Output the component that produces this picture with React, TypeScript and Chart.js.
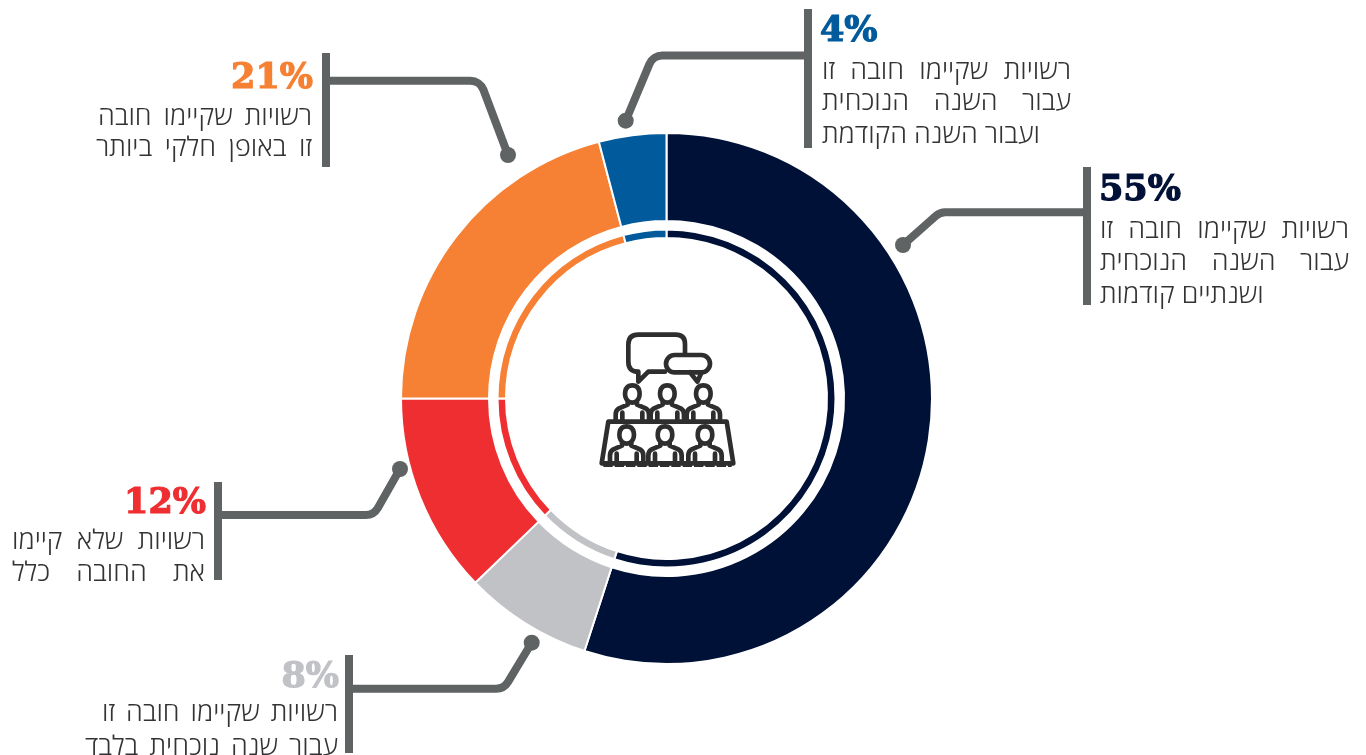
import React, { useEffect, useRef } from "react";
import { Chart, registerables } from "chart.js";

Chart.register(...registerables);

const categories = [
  "רשויות שקיימו חובה זו עבור השנה הנוכחית ושנתיים קודמות",
  "רשויות שקיימו חובה זו עבור שנה נוכחית בלבד",
  "רשויות שלא קיימו את החובה כלל",
  "רשויות שקיימו חובה זו באופן חלקי ביותר",
  "רשויות שקיימו חובה זו עבור השנה הנוכחית ועבור השנה הקודמת",
];
const percentLabels = ["55%", "8%", "12%", "21%", "4%"];
const values = [55, 7.8, 12.2, 20.9, 4.1];
const sliceColors = ["#001137", "#c1c2c6", "#ef2e31", "#f68033", "#005a9c"];
const BAR = "#5f6363";
const TEXT = "#333335";

type Line = { text: string; left: number; right: number; top: number; justify: boolean };
type Callout = {
  index: number;
  pctLeft?: number;
  pctRight?: number;
  pctTop: number;
  bar: [number, number, number, number];
  leader: [number, number][];
  lines: Line[];
};

const callouts: Callout[] = [
  {
    index: 0,
    pctLeft: 1099,
    pctTop: 166,
    bar: [1083, 167, 8, 138],
    leader: [[1084, 212.3], [940, 212.3], [903, 245]],
    lines: [
      { text: "רשויות שקיימו חובה זו", left: 1100, right: 1349, top: 211, justify: true },
      { text: "עבור השנה הנוכחית", left: 1100, right: 1349, top: 243, justify: true },
      { text: "ושנתיים קודמות", left: 1100, right: 1267, top: 276, justify: false },
    ],
  },
  {
    index: 4,
    pctLeft: 820,
    pctTop: 7,
    bar: [804, 9, 8, 139],
    leader: [[805, 55.5], [653, 55.5], [625.7, 120.7]],
    lines: [
      { text: "רשויות שקיימו חובה זו", left: 822, right: 1071, top: 52, justify: true },
      { text: "עבור השנה הנוכחית", left: 822, right: 1071, top: 83, justify: true },
      { text: "ועבור השנה הקודמת", left: 822, right: 1047, top: 116, justify: false },
    ],
  },
  {
    index: 3,
    pctRight: 313,
    pctTop: 54,
    bar: [322, 53, 8, 114],
    leader: [[329, 80.7], [480, 80.7], [508, 155]],
    lines: [
      { text: "רשויות שקיימו חובה", left: 98, right: 312, top: 98, justify: true },
      { text: "זו באופן חלקי ביותר", left: 96, right: 312, top: 129, justify: true },
    ],
  },
  {
    index: 2,
    pctRight: 206,
    pctTop: 479,
    bar: [214, 482, 8, 98],
    leader: [[221, 515], [373.8, 515], [400, 469]],
    lines: [
      { text: "רשויות שלא קיימו", left: 12, right: 205, top: 522, justify: true },
      { text: "את החובה כלל", left: 12, right: 205, top: 554, justify: true },
    ],
  },
  {
    index: 1,
    pctRight: 339,
    pctTop: 653,
    bar: [345, 655, 8, 98],
    leader: [[352, 688.7], [504, 688.7], [531.7, 642.7]],
    lines: [
      { text: "רשויות שקיימו חובה זו", left: 102, right: 338, top: 694, justify: true },
      { text: "עבור שנה נוכחית בלבד", left: 85, right: 338, top: 728, justify: true },
    ],
  },
];

const calloutPlugin = {
  id: "callouts",
  afterDatasetsDraw(chart: any) {
    const ctx = chart.ctx;
    ctx.save();
    ctx.fillStyle = BAR;
    ctx.strokeStyle = BAR;
    ctx.lineWidth = 8;
    ctx.lineJoin = "round";
    for (const c of callouts) {
      ctx.fillRect(...c.bar);
      const [a, b, d] = c.leader;
      ctx.beginPath();
      ctx.moveTo(a[0], a[1]);
      ctx.arcTo(b[0], b[1], d[0], d[1], 14);
      ctx.lineTo(d[0], d[1]);
      ctx.stroke();
      ctx.beginPath();
      ctx.arc(d[0], d[1], 8, 0, Math.PI * 2);
      ctx.fill();
    }
    ctx.restore();
  },
};

const people: [number, number][] = [
  [127, 222], [232, 222], [340, 222],
  [110, 345], [225, 345], [345, 345],
];

function Person({ x, y }: { x: number; y: number }) {
  return (
    <g>
      <path d={`M${x},${y - 26} C${x + 26},${y - 26} ${x + 26},${y + 8} ${x + 14},${y + 20} Q${x},${y + 32} ${x - 14},${y + 20} C${x - 26},${y + 8} ${x - 26},${y - 26} ${x},${y - 26} Z`} />
      <path d={`M${x - 14},${y + 24} V${y + 32} L${x - 40},${y + 43} Q${x - 50},${y + 48} ${x - 50},${y + 62} V${y + 82} M${x + 14},${y + 24} V${y + 32} L${x + 40},${y + 43} Q${x + 50},${y + 48} ${x + 50},${y + 62} V${y + 82} M${x - 30},${y + 56} V${y + 82} M${x + 30},${y + 56} V${y + 82}`} />
    </g>
  );
}

function Icon() {
  return (
    <svg
      viewBox="0 0 480 465"
      width={160}
      height={155}
      style={{ position: "absolute", left: 590, top: 320 }}
      fill="none"
      stroke="#2e2e2e"
      strokeWidth={14}
      strokeLinejoin="round"
      strokeLinecap="round"
    >
      <path d="M285,100 V72 Q285,44 257,44 H145 Q115,44 115,74 V125 Q115,155 145,155 V185 L175,155 H225" />
      <rect x={228} y={105} width={132} height={52} rx={26} />
      <path d="M300,157 L322,185 L335,157" />
      {people.map(([x, y], i) => (
        <Person key={i} x={x} y={y} />
      ))}
      <path d="M55,305 H410 L430,430 H35 Z" />
      <path d="M40,435 H425" strokeWidth={12} strokeDasharray="28 6" strokeLinecap="butt" />
    </svg>
  );
}

export default function App() {
  const ref = useRef<HTMLCanvasElement>(null);
  useEffect(() => {
    const chart = new Chart(ref.current!, {
      type: "doughnut",
      data: {
        labels: categories,
        datasets: [
          {
            data: values,
            backgroundColor: sliceColors,
            borderColor: "#ffffff",
            borderWidth: 2,
            weight: 88,
          },
          {
            data: [100],
            backgroundColor: ["rgba(0,0,0,0)"],
            borderWidth: 0,
            weight: 8.5,
          },
          {
            data: values,
            backgroundColor: sliceColors,
            borderColor: "#ffffff",
            borderWidth: 2,
            weight: 8.5,
          },
        ],
      },
      options: {
        responsive: false,
        animation: false,
        cutout: 160.5,
        layout: { padding: { left: 400, right: 433, top: 132, bottom: 90 } },
        plugins: { legend: { display: false }, tooltip: { enabled: false } },
      },
      plugins: [calloutPlugin],
    } as any);
    return () => chart.destroy();
  }, []);

  return (
    <div style={{ position: "absolute", left: 0, top: 0, width: 1366, height: 755, overflow: "hidden", background: "#fff" }}>
      <canvas ref={ref} width={1366} height={755} style={{ display: "block" }} />
      <Icon />
      {callouts.map((c) => (
        <React.Fragment key={c.index}>
          <div
            style={{
              position: "absolute",
              left: c.pctLeft,
              right: c.pctRight !== undefined ? 1366 - c.pctRight : undefined,
              top: c.pctTop,
              font: "bold 35px/44px 'DejaVu Serif'",
              color: sliceColors[c.index],
              WebkitTextStroke: `1.2px ${sliceColors[c.index]}`,
              whiteSpace: "nowrap",
            }}
          >
            {percentLabels[c.index]}
          </div>
          {c.lines.map((l, i) => (
            <div
              key={i}
              dir="rtl"
              style={{
                position: "absolute",
                left: l.left,
                width: l.right - l.left,
                top: l.top,
                font: "300 27px/34px 'Open Sans'",
                color: TEXT,
                textAlign: "justify",
                textAlignLast: l.justify ? "justify" : "left",
                height: 34,
              }}
            >
              {l.text}
            </div>
          ))}
        </React.Fragment>
      ))}
    </div>
  );
}
